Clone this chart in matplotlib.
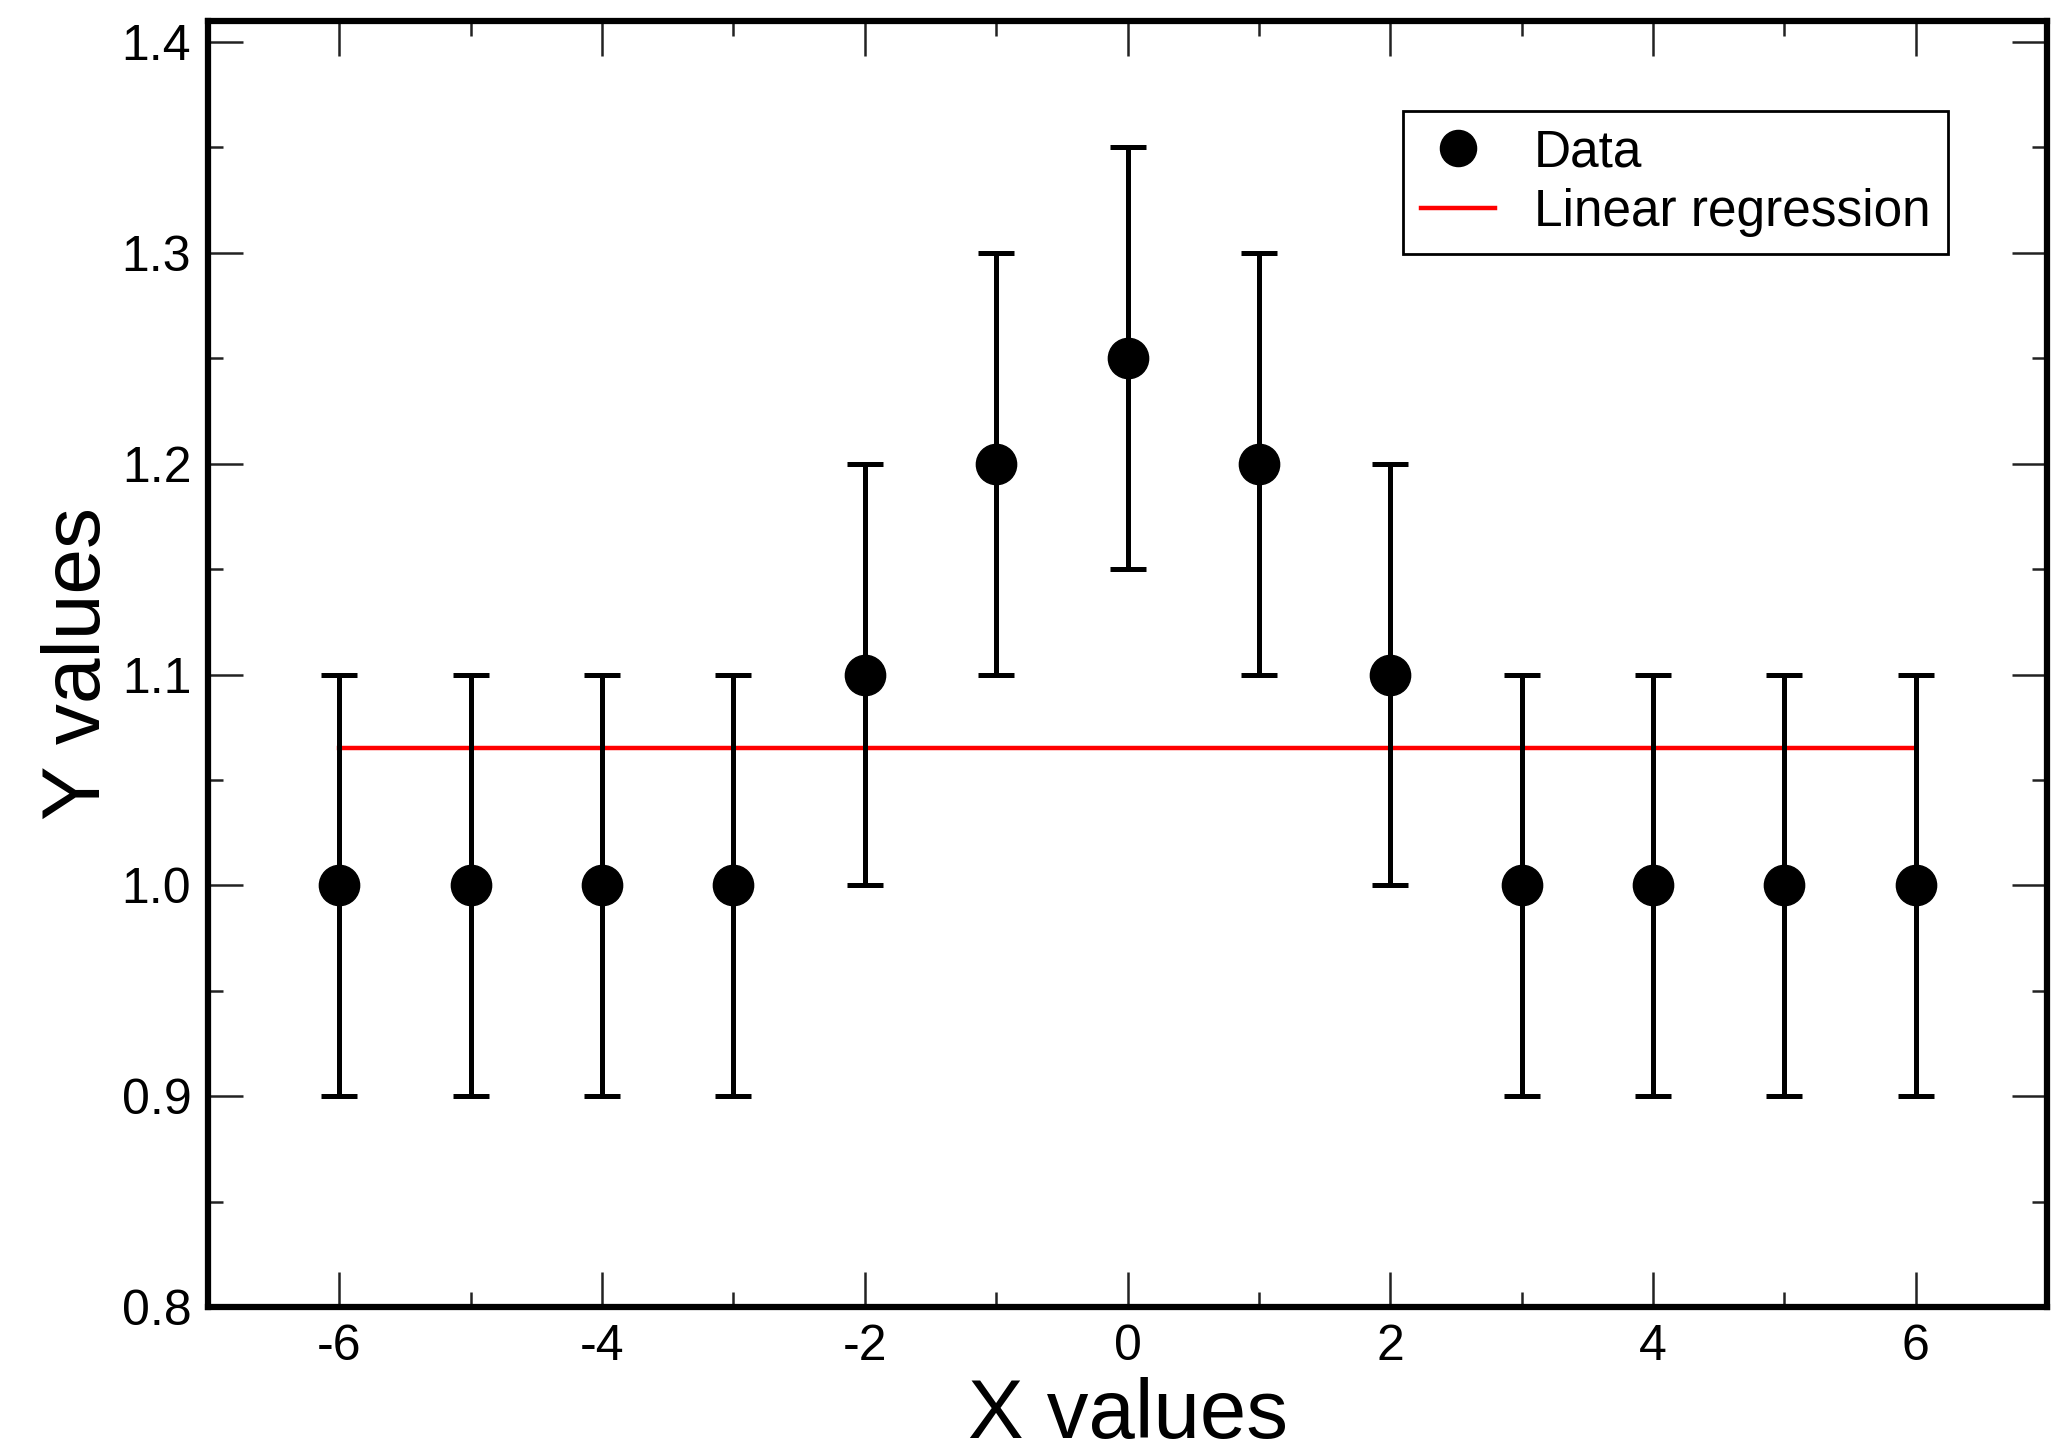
import numpy as np
import matplotlib
matplotlib.use("Agg")
import matplotlib.pyplot as plt
from matplotlib.ticker import MultipleLocator
from matplotlib.lines import Line2D

plt.rcParams['font.family'] = ['Liberation Sans', 'DejaVu Sans']
plt.rcParams['axes.unicode_minus'] = False

x_vals = [-6, -5, -4, -3, -2, -1, 0, 1, 2, 3, 4, 5, 6]
y_vals = [1.0, 1.0, 1.0, 1.0, 1.1, 1.2, 1.25, 1.2, 1.1, 1.0, 1.0, 1.0, 1.0]
y_err = [0.1] * 13

x = np.array(x_vals, dtype=float)
y = np.array(y_vals, dtype=float)
slope, intercept = np.polyfit(x, y, 1)
x_fit = np.array([x.min(), x.max()])
y_fit = slope * x_fit + intercept

W, H = 2053, 1453
fig = plt.figure(figsize=(W / 100, H / 100), dpi=100)
ax = fig.add_axes([208 / W, 1 - 1307 / H, (2047 - 208) / W, (1307 - 21) / H])

ax.plot(x_fit, y_fit, color='#ff0000', lw=3.2, zorder=2)
ax.errorbar(x, y, yerr=y_err, fmt='o', color='black', ms=29, elinewidth=3.6,
            capsize=13, capthick=3.6, zorder=3)

ax.set_xlim(-7, 7)
ax.set_ylim(0.8, 1.41)
ax.xaxis.set_major_locator(MultipleLocator(2))
ax.xaxis.set_minor_locator(MultipleLocator(1))
ax.yaxis.set_major_locator(MultipleLocator(0.1))
ax.yaxis.set_minor_locator(MultipleLocator(0.05))
ax.yaxis.set_major_formatter(matplotlib.ticker.FormatStrFormatter('%.1f'))

ax.tick_params(which='both', direction='in', top=True, right=True, width=1.8, color='#222222')
ax.tick_params(which='major', length=25, labelsize=36, pad=12)
ax.tick_params(which='minor', length=11)
for s in ax.spines.values():
    s.set_linewidth(4.5)

ax.set_xlabel('X values', fontsize=60, labelpad=5)
ax.set_ylabel('Y values', fontsize=59, labelpad=3)

h_data = Line2D([], [], linestyle='none', marker='o', color='black', ms=26)
h_fit = Line2D([], [], color='#ff0000', lw=3.2)
leg = ax.legend([h_data, h_fit], ['Data', 'Linear regression'],
                loc='upper right', bbox_to_anchor=(1948 / W, 1 - 111 / H),
                bbox_transform=fig.transFigure, fontsize=37, fancybox=False,
                framealpha=1, edgecolor='black', handlelength=1.45, handletextpad=0.75,
                borderpad=0.34, labelspacing=0.2, borderaxespad=0)
leg.get_frame().set_linewidth(2)

fig.savefig('out.png', dpi=100)
